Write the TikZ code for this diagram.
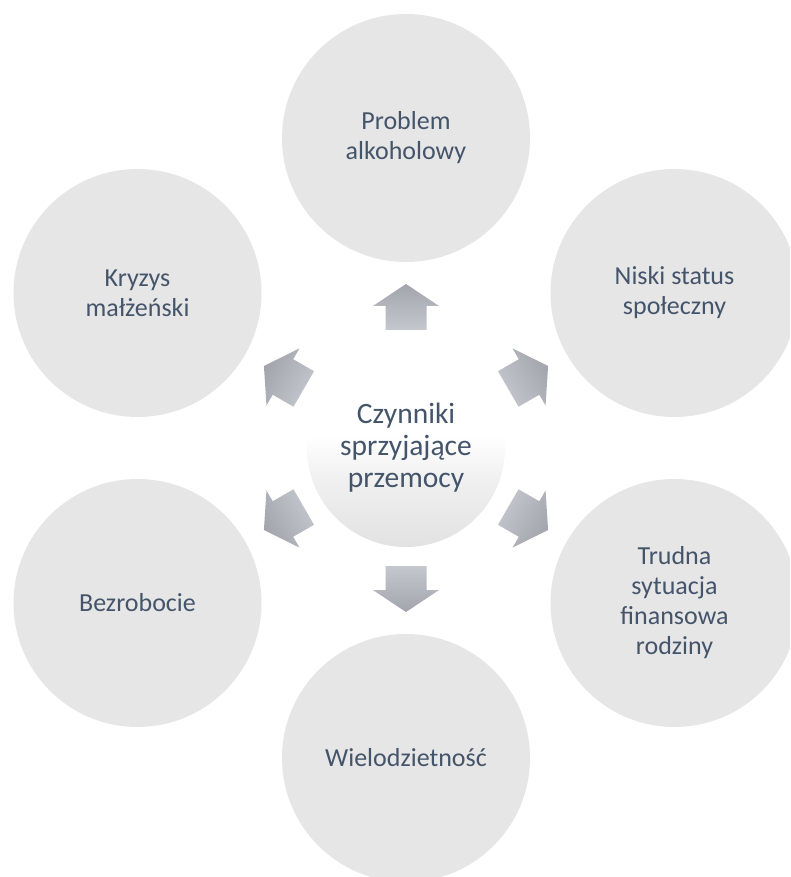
\documentclass[tikz,border=0pt]{standalone}
\usepackage{fontspec}
\setmainfont{Carlito}
\usetikzlibrary{calc}
\definecolor{txt}{HTML}{44546A}
\definecolor{circ}{HTML}{E6E6E6}
\definecolor{arrA}{RGB}{162,165,172}
\definecolor{arrB}{RGB}{196,199,206}
\definecolor{ctrB}{RGB}{226,226,226}
\definecolor{ctrM}{RGB}{240,240,240}
\pgfdeclareverticalshading{ctrshade}{100bp}{color(0bp)=(ctrB); color(25bp)=(ctrB); color(42bp)=(ctrM); color(53bp)=(white); color(100bp)=(white)}
\begin{document}
\begin{tikzpicture}[x=1pt,y=1pt,
  outer/.style={circle,fill=circ,minimum size=248pt,inner sep=0pt,text=txt,
    font=\fontsize{26}{30}\selectfont,align=center},
  center/.style={circle,minimum size=198pt,inner sep=0pt,text=txt,
    shade,shading=ctrshade,
    font=\fontsize{29.5}{32}\selectfont,align=center},
  arrowfill/.style={top color=arrA,bottom color=arrB}]
\useasboundingbox (0,0) rectangle (790,877);
\clip (0,0) rectangle (790,877);
\node[outer] (top) at (406,739) {Problem\\alkoholowy};
\node[outer] (ne) at (674.5,584) {Niski status\\społeczny};
\node[outer] (se) at (674.5,274) {Trudna\\sytuacja\\finansowa\\rodziny};
\node[outer] (bot) at (406,119) {Wielodzietność};
\node[outer] (sw) at (137.5,274) {Bezrobocie};
\node[outer] (nw) at (137.5,584) {Kryzys\\małżeński};
\node[center] (c) at (406,429) {Czynniki\\sprzyjające\\przemocy};
\foreach \t/\a in {top/90, ne/30, se/-30, bot/-90, sw/-150, nw/150} {
  \pgfmathsetmacro\sa{\a-90}
  \begin{scope}[shift={($(c)!0.455!(\t)$)}, rotate=\a]
    \shade[arrowfill, shading angle=\sa] (23,0) -- (1,33) -- (1,20.5) -- (-23,20.5)
      -- (-23,-20.5) -- (1,-20.5) -- (1,-33) -- cycle;
  \end{scope}
}
\end{tikzpicture}
\end{document}
